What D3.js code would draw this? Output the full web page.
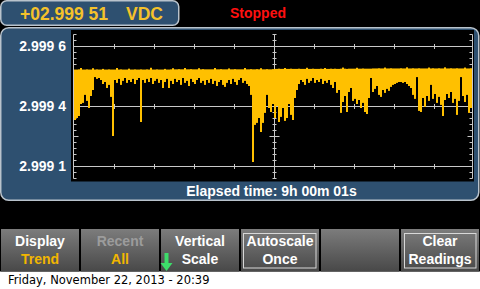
<!DOCTYPE html>
<html><head><meta charset="utf-8">
<script src="https://cdn.jsdelivr.net/npm/d3@7"></script>
<style>html,body{margin:0;padding:0;background:#000;overflow:hidden}svg{display:block}</style>
</head><body><svg id="c" width="480" height="289"></svg>
<script>
// ---------------- data ----------------
const BASE_V = 2.999;              // readings = BASE_V + value * 1e-6
// lowest reading per display column (µV above 2.999 V)
const minUV = [
307,316,325,379,384,420,393,361,415,442,
500,492,496,487,469,478,451,465,411,235,
487,474,492,465,483,496,474,487,478,492,
469,487,496,298,487,474,492,478,496,469,
483,492,474,487,451,478,492,451,483,469,
492,478,487,465,496,474,483,460,492,478,
469,487,496,474,483,465,487,474,492,469,
483,460,478,487,465,456,474,487,469,492,
478,465,487,496,474,483,469,460,420,118,
285,294,316,253,294,339,420,361,343,379,
316,370,298,321,361,303,316,379,330,307,
406,442,469,487,478,465,492,474,483,496,
474,487,478,492,469,483,474,487,465,451,
478,429,442,339,388,415,343,433,451,393,
402,379,397,361,384,343,334,406,496,433,
447,460,420,411,442,429,447,438,456,465,
469,474,478,478,474,478,469,460,451,420,
402,500,348,343,406,366,415,393,465,402,
424,384,411,375,325,397,424,406,433,384,
402,330,393,500,415,388,420,339,361
];
// highest reading per display column (µV above 2.999 V)
const maxUV = [
534,534,535,541,534,534,535,534,534,540,
534,535,534,534,537,534,534,535,534,534,
534,541,534,535,534,534,534,538,534,534,
535,534,534,535,534,534,535,534,542,534,
534,535,534,534,534,537,534,534,535,540,
535,535,536,535,535,541,535,535,536,535,
535,535,540,535,536,535,535,535,535,535,
541,535,535,536,535,535,535,539,535,535,
536,535,535,535,535,541,535,535,536,535,
535,536,535,540,535,535,536,535,535,536,
537,537,538,537,537,541,537,537,538,537,
537,537,538,537,537,537,542,537,537,538,
537,537,537,538,537,541,537,537,538,537,
538,537,537,538,543,538,537,538,538,538,
538,542,538,538,539,538,538,538,538,539,
539,539,540,539,539,543,539,539,540,539,
539,539,539,540,539,539,544,539,539,540,
539,539,540,539,539,539,539,543,539,540,
539,539,540,539,539,544,539,539,540,539,
539,540,539,539,539,543,539,539,540
];
const gridValues = [2.99964, 2.99937, 2.99910];
const tickLabels = ["2.999 6", "2.999 4", "2.999 1"];
const readingText = "+02.999 51";
const unitText = "VDC";
const statusText = "Stopped";
const elapsedText = "Elapsed time: 9h 00m 01s";
const keyTop = ["Display", "Recent", "Vertical", "Autoscale", "", "Clear"];
const keyBottom = ["Trend", "All", "Scale", "Once", "", "Readings"];
const dateText = "Friday, November 22, 2013 - 20:39";

// ---------------- drawing ----------------
const svg = d3.select("#c");
const FONT = "'Liberation Sans', Arial, sans-serif";
const PANEL = "#2e5070", RIM = "#b9c3cc", YEL = "#ffc000", GRID = "#c8c8c8";

svg.append("rect").attr("x",0).attr("y",0).attr("width",480).attr("height",289).attr("fill","#000");
svg.append("rect").attr("x",0).attr("y",271.5).attr("width",480).attr("height",18).attr("fill","#fff");

// header box
svg.append("rect").attr("x",0.75).attr("y",0.75).attr("width",178).attr("height",24.5).attr("rx",6)
  .attr("fill",PANEL).attr("stroke",RIM).attr("stroke-width",1.5);
svg.append("text").attr("x",20).attr("y",19.5).attr("font-family",FONT).attr("font-weight","bold")
  .attr("font-size",17.5).attr("fill","#f5c22a").text(readingText);
svg.append("text").attr("x",126).attr("y",19.5).attr("font-family",FONT).attr("font-weight","bold")
  .attr("font-size",17.5).attr("fill","#f5c22a").text(unitText);
svg.append("text").attr("x",230).attr("y",17.5).attr("font-family",FONT).attr("font-weight","bold")
  .attr("font-size",14).attr("fill","#ff1010").text(statusText);

// main panel
svg.append("rect").attr("x",0.75).attr("y",27.75).attr("width",478).attr("height",172.5).attr("rx",8)
  .attr("fill",PANEL).attr("stroke",RIM).attr("stroke-width",1.5);
svg.append("rect").attr("x",71).attr("y",30).attr("width",403).attr("height",151.5).attr("fill","#000");

// scales
const yScale = d3.scaleLinear().domain([gridValues[2], gridValues[0]]).range([166, 46]);
const xScale = d3.scaleBand().domain(d3.range(minUV.length)).range([74, 472]).padding(0);
const xDiv = d3.scaleLinear().domain([0, 10]).range([74, 474]);
const step = (gridValues[0] - gridValues[2]) / 20;
const minorVals = d3.range(25).map(k => gridValues[2] - 2 * step + k * step);
const isMajor = k => k === 7 || k === 17;
const py = v => Math.round(yScale(v)) + 0.5;

const g = svg.append("g").attr("stroke", GRID).attr("stroke-width", 1).attr("fill","none");
// horizontal gridlines
gridValues.forEach(v => {
  g.append("line").attr("x1",73.5).attr("x2",472.5).attr("y1",py(v)).attr("y2",py(v));
  d3.range(1, 10).filter(d => d !== 5).forEach(d => {
    const x = Math.round(xDiv(d)) + 0.5;
    g.append("line").attr("x1",x).attr("x2",x).attr("y1",py(v)-2.5).attr("y2",py(v)+2.5);
  });
});
// axes: left, center, right
const yTop = py(minorVals[24]), yBot = py(minorVals[0]);
[73.5, 274.5, 472.5].forEach((x, ai) => {
  g.append("line").attr("x1",x).attr("x2",x).attr("y1",yTop).attr("y2",yBot);
  minorVals.forEach((v, k) => {
    const y = py(v);
    if (ai === 0) g.append("line").attr("x1",x).attr("x2",x + (isMajor(k)?5:3)).attr("y1",y).attr("y2",y);
    else if (ai === 2) g.append("line").attr("x1",x).attr("x2",x - (isMajor(k)?5:3)).attr("y1",y).attr("y2",y);
    else { const w = isMajor(k) ? 5 : 2; g.append("line").attr("x1",x-w).attr("x2",x+w).attr("y1",y).attr("y2",y); }
  });
});

// data bars (min/max envelope)
svg.append("g").selectAll("rect").data(minUV).join("rect")
  .attr("x", (d, i) => xScale(i))
  .attr("width", xScale.bandwidth())
  .attr("y", (d, i) => yScale(BASE_V + maxUV[i] * 1e-6))
  .attr("height", (d, i) => yScale(BASE_V + d * 1e-6) - yScale(BASE_V + maxUV[i] * 1e-6))
  .attr("fill", YEL);

// y tick labels
svg.append("g").selectAll("text").data(gridValues).join("text")
  .attr("x", 66).attr("y", v => yScale(v) + 5)
  .attr("text-anchor","end").attr("font-family",FONT).attr("font-weight","bold")
  .attr("font-size",14).attr("fill","#fff").text((v, i) => tickLabels[i]);

// elapsed time
svg.append("text").attr("x",271.5).attr("y",195.5).attr("text-anchor","middle")
  .attr("font-family",FONT).attr("font-weight","bold").attr("font-size",14).attr("fill","#fff").text(elapsedText);

// softkeys
const defs = svg.append("defs");
const grad = defs.append("linearGradient").attr("id","kg").attr("x1",0).attr("y1",0).attr("x2",0).attr("y2",1);
grad.append("stop").attr("offset","0%").attr("stop-color","#7c7c7c");
grad.append("stop").attr("offset","100%").attr("stop-color","#484848");
const keyColorsTop = ["#fff", "#9c9c9c", "#fff", "#fff", "#fff", "#fff"];
const keyColorsBot = ["#f2b600", "#f2b600", "#fff", "#fff", "#fff", "#fff"];
keyTop.forEach((t, k) => {
  const x0 = k * 80;
  svg.append("rect").attr("x", x0 + 1).attr("y", 229).attr("width", 78).attr("height", 42.5).attr("fill","url(#kg)");
  const cx = x0 + 40;
  if (k === 3 || k === 5) {
    const bx = k === 3 ? 243.5 : 404.5, bw = k === 3 ? 72.5 : 71.5;
    svg.append("rect").attr("x",bx).attr("y",233.5).attr("width",bw).attr("height",34.5)
      .attr("fill","none").attr("stroke","#d8d8d8").attr("stroke-width",1);
  }
  svg.append("text").attr("x",cx).attr("y",246).attr("text-anchor","middle").attr("font-family",FONT)
    .attr("font-weight","bold").attr("font-size",14).attr("fill",keyColorsTop[k]).text(t);
  svg.append("text").attr("x",cx).attr("y",263.5).attr("text-anchor","middle").attr("font-family",FONT)
    .attr("font-weight","bold").attr("font-size",14).attr("fill",keyColorsBot[k]).text(keyBottom[k]);
});
// green down arrow
svg.append("path").attr("d","M164.5,253 H168.5 V263 H172.5 L166.5,271 L160.5,263 H164.5 Z").attr("fill","#3ddc6a");

// date
svg.append("text").attr("x",8).attr("y",283.5).attr("font-family","'DejaVu Sans', sans-serif").attr("font-size",11.5)
  .attr("fill","#000").text(dateText);
</script></body></html>
